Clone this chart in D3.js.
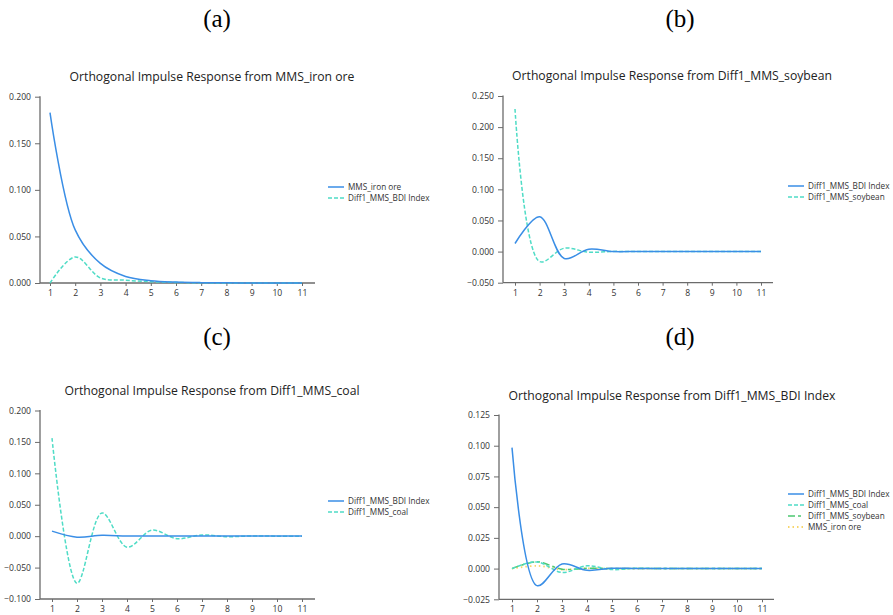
<!DOCTYPE html>
<html><head><meta charset="utf-8">
<script src="https://cdn.jsdelivr.net/npm/d3@7"></script>
<style>
body{margin:0;background:#fff;}
svg{display:block;}
text{font-family:"Open Sans","Noto Sans",sans-serif;}
</style></head>
<body>
<svg id="c" width="893" height="615"></svg>
<script>
// ---- data ----
const steps = [1,2,3,4,5,6,7,8,9,10,11];
const panelLabels = ["(a)","(b)","(c)","(d)"];
const titles = [
  "Orthogonal Impulse Response from MMS_iron ore",
  "Orthogonal Impulse Response from Diff1_MMS_soybean",
  "Orthogonal Impulse Response from Diff1_MMS_coal",
  "Orthogonal Impulse Response from Diff1_MMS_BDI Index"
];
// panel (a)
const ironA = [0.183,0.057,0.021,0.007,0.0025,0.001,0.0004,0.0002,0.0001,0,0];
const bdiA  = [0,0.028,0.0054,0.003,0.0014,0.0006,0.0002,0.0001,0,0,0];
// panel (b)
const bdiB  = [0.013,0.056,-0.011,0.0038,0,0.0002,0,0,0,0,0];
const soyB  = [0.229,-0.016,0.0054,-0.001,0.0003,0,0,0,0,0,0];
// panel (c)
const bdiC  = [0.008,-0.0016,0.0015,0.0002,0.0003,0.0002,0.0002,0.0002,0.0002,0.0002,0.0002];
const coalC = [0.156,-0.075,0.037,-0.0175,0.0095,-0.004,0.002,-0.0008,0.0003,0,0];
// panel (d)
const bdiD  = [0.0984,-0.0139,0.0038,-0.0014,0.0003,0,0,0,0,0,0];
const coalD = [0,0.0054,-0.0032,0.0023,-0.0008,0.0003,0,0,0,0,0];
const soyD  = [0,0.0055,-0.0005,0.0002,0,0,0,0,0,0,0];
const ironD = [0,0.0022,-0.0008,0.0002,0,0,0,0,0,0,0];
// y ticks
const yTicksA = [0,0.05,0.1,0.15,0.2];
const yTicksB = [-0.05,0,0.05,0.1,0.15,0.2,0.25];
const yTicksC = [-0.1,-0.05,0,0.05,0.1,0.15,0.2];
const yTicksD = [-0.025,0,0.025,0.05,0.075,0.1,0.125];

// ---- styles ----
const BLUE="#3a8ee6", CYAN="#4fdcc6", GREEN="#4cc870", YELLOW="#f7d56a";
const STY = {
  solid:{c:BLUE,d:null},
  dash:{c:CYAN,d:"4,2"},
  dashdot:{c:GREEN,d:"7,3,3,3"},
  dot:{c:YELLOW,d:"1.5,3"}
};

const panels = [
  {lab:[217,27], title:[212,81], L:40, R:315, x1:50, x11:302, yDom:[0,0.2], yR:[283,96.7], ticks:yTicksA,
   series:[{n:"MMS_iron ore",v:ironA,s:"solid"},{n:"Diff1_MMS_BDI Index",v:bdiA,s:"dash"}], leg:[328,187]},
  {lab:[680,27], title:[672,80], L:503, R:773, x1:515, x11:761, yDom:[-0.05,0.25], yR:[282.7,96], ticks:yTicksB,
   series:[{n:"Diff1_MMS_BDI Index",v:bdiB,s:"solid"},{n:"Diff1_MMS_soybean",v:soyB,s:"dash"}], leg:[788,186]},
  {lab:[217,345], title:[212,395], L:40, R:315, x1:52, x11:302, yDom:[-0.1,0.2], yR:[599,410.5], ticks:yTicksC,
   series:[{n:"Diff1_MMS_BDI Index",v:bdiC,s:"solid"},{n:"Diff1_MMS_coal",v:coalC,s:"dash"}], leg:[328,501]},
  {lab:[680,345], title:[672,400], L:499, R:774, x1:512, x11:762, yDom:[-0.025,0.125], yR:[599.3,415], ticks:yTicksD,
   series:[{n:"Diff1_MMS_BDI Index",v:bdiD,s:"solid"},{n:"Diff1_MMS_coal",v:coalD,s:"dash"},
           {n:"Diff1_MMS_soybean",v:soyD,s:"dashdot"},{n:"MMS_iron ore",v:ironD,s:"dot"}], leg:[788,494]}
];

const svg = d3.select("#c");
const AX="#6b6b6b";
const LEG_STEP = 11;

panels.forEach((p,i)=>{
  const g = svg.append("g");
  g.append("text").attr("x",p.lab[0]).attr("y",p.lab[1]).attr("text-anchor","middle")
    .style("font-family",'"Liberation Serif","Times New Roman",serif').style("font-size","25px").attr("fill","#000")
    .text(panelLabels[i]);
  g.append("text").attr("x",p.title[0]).attr("y",p.title[1]).attr("text-anchor","middle")
    .style("font-size","12.2px").attr("fill","#222").text(titles[i]);

  const x = d3.scaleLinear().domain([1,11]).range([p.x1,p.x11]);
  const y = d3.scaleLinear().domain(p.yDom).range(p.yR);
  const yBase = p.yR[0];

  // y axis
  const ya = g.append("g").attr("transform",`translate(${p.L},0)`)
    .call(d3.axisLeft(y).tickValues(p.ticks).tickFormat(d3.format(".3f")).tickSize(5).tickPadding(4).tickSizeOuter(0));
  ya.select(".domain").attr("stroke",AX).attr("stroke-width",1.3).attr("d",`M0,${p.yR[1]-0.5}V${yBase}`);
  // x axis
  const xa = g.append("g").attr("transform",`translate(0,${yBase})`)
    .call(d3.axisBottom(x).tickValues(steps).tickFormat(d3.format("d")).tickSize(3).tickPadding(4).tickSizeOuter(0));
  xa.select(".domain").attr("stroke",AX).attr("stroke-width",1.3).attr("d",`M${p.L},0H${p.R}`);
  [ya,xa].forEach(a=>{
    a.selectAll(".tick line").attr("stroke",AX);
    a.selectAll(".tick text").attr("fill","#333").style("font-size","8.6px");
  });

  const line = d3.line().x((d,k)=>x(steps[k])).y(d=>y(d)).curve(d3.curveCatmullRom.alpha(0.5));
  p.series.slice().reverse().forEach(s=>{
    const st = STY[s.s];
    g.append("path").attr("d",line(s.v)).attr("fill","none").attr("stroke",st.c)
      .attr("stroke-width",s.s==="dot"?1.8:1.5).attr("stroke-dasharray",st.d);
  });

  // legend
  p.series.forEach((s,k)=>{
    const st = STY[s.s];
    const yy = p.leg[1]+k*LEG_STEP;
    g.append("line").attr("x1",p.leg[0]).attr("x2",p.leg[0]+16).attr("y1",yy).attr("y2",yy)
      .attr("stroke",st.c).attr("stroke-width",s.s==="dot"?1.8:1.5).attr("stroke-dasharray",st.d);
    g.append("text").attr("x",p.leg[0]+20).attr("y",yy+3).style("font-size","8.2px").attr("fill","#333").text(s.n);
  });
});
</script>
</body></html>
